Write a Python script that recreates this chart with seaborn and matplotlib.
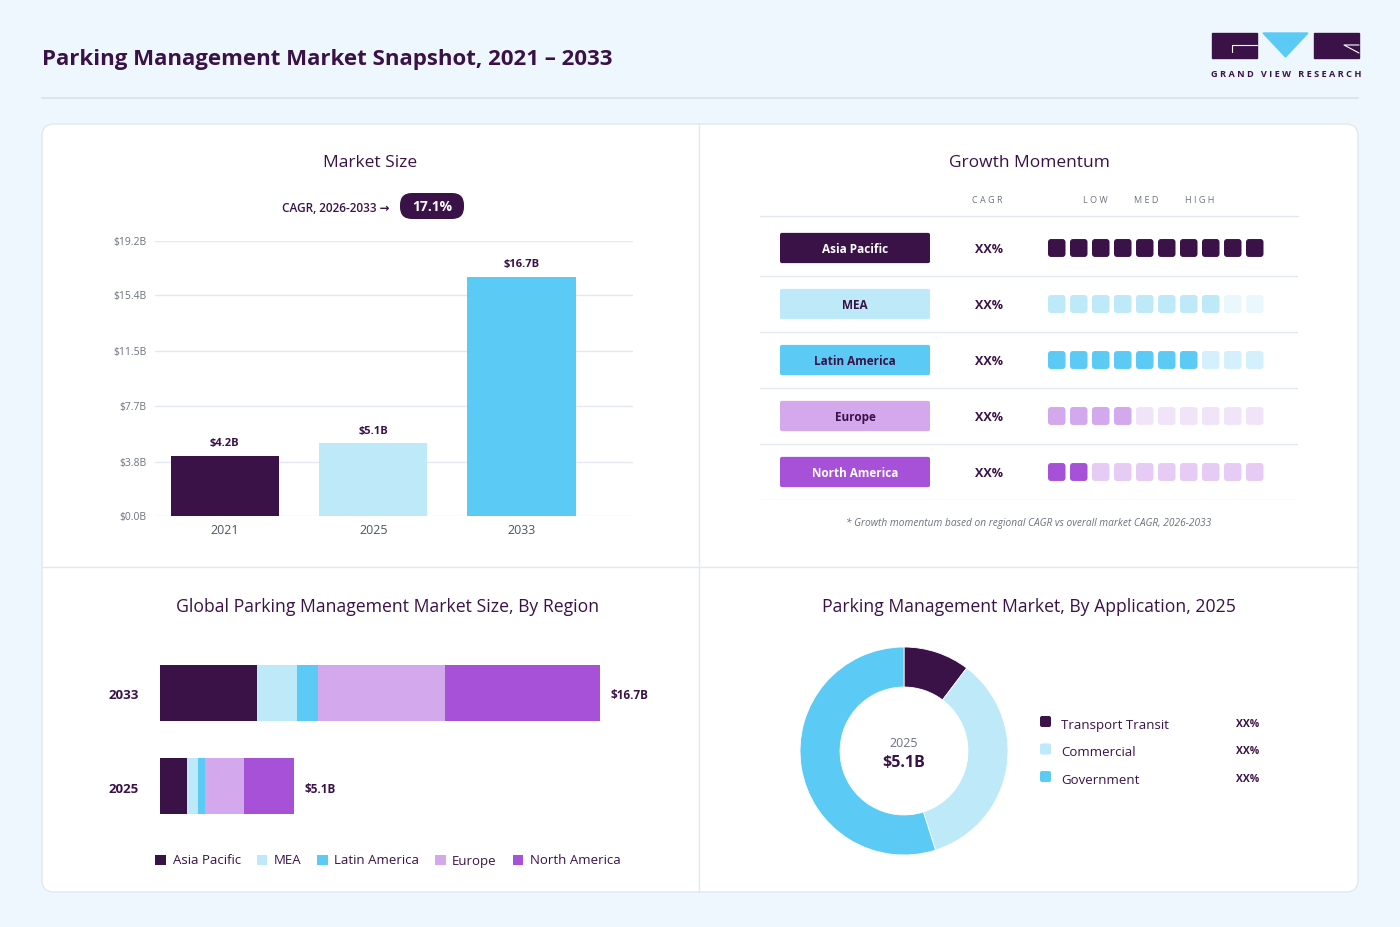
"""
Parking management market snapshot dashboard
"""
import matplotlib
matplotlib.use('Agg')
import matplotlib.pyplot as plt
from matplotlib.patches import FancyBboxPatch, Rectangle, Polygon, Patch
import seaborn as sns
import pandas as pd
import numpy as np

# ---- data ----
years = ['2021', '2025', '2033']
market_size = [4.2, 5.1, 16.7]
size_ticks = [0.0, 3.8, 7.7, 11.5, 15.4, 19.2]
cagr_label = '17.1%'

regions = ['Asia Pacific', 'MEA', 'Latin America', 'Europe', 'North America']
momentum_filled = [10, 8, 7, 4, 2]
momentum_cagr = ['XX%', 'XX%', 'XX%', 'XX%', 'XX%']

stack_years = ['2033', '2025']
region_2033 = [3.70, 1.50, 0.78, 4.83, 5.89]
region_2025 = [1.04, 0.42, 0.24, 1.50, 1.90]

applications = ['Transport Transit', 'Commercial', 'Government']
app_share = [10.3, 34.8, 54.9]
app_labels = ['XX%', 'XX%', 'XX%']

# ---- style ----
DARK = '#3A1248'
LIGHTBLUE = '#BDE9F9'
BLUE = '#5BCBF5'
LILAC = '#D4A8EC'
PURPLE = '#A751D8'
GREY = '#6B7280'
GRID = '#E3E8F0'
BG = '#EFF7FE'
region_colors = [DARK, LIGHTBLUE, BLUE, LILAC, PURPLE]
faded_colors = [DARK, '#EAF7FD', '#D3F0FC', '#F1E4F9', '#E6CCF4']
app_colors = [DARK, LIGHTBLUE, BLUE]

sns.set_theme(style='white')
plt.rcParams['font.family'] = ['Open Sans', 'DejaVu Sans']

W, H = 1400, 927
fig = plt.figure(figsize=(W / 100, H / 100), dpi=100, facecolor=BG)


def px_axes(x0, y0, x1, y1, **kw):
    """axes from pixel box (top-left origin)"""
    return fig.add_axes([x0 / W, 1 - y1 / H, (x1 - x0) / W, (y1 - y0) / H], **kw)


# background canvas in pixel coordinates
bg = px_axes(0, 0, W, H)
bg.set_xlim(0, W)
bg.set_ylim(H, 0)
bg.axis('off')
bg.set_zorder(0)

bg.text(42, 59, 'Parking Management Market Snapshot, 2021 \u2013 2033', fontsize=16,
        fontweight='bold', color=DARK, va='center', ha='left')
bg.plot([42, 1358], [98, 98], color='#DCE4EE', lw=1.5)

# logo
bg.add_patch(Rectangle((1212, 33), 45, 25, color=DARK))
bg.plot([1232, 1232, 1257], [52, 45, 45], color='white', lw=0.8)
bg.add_patch(Polygon([[1263, 33], [1308, 33], [1285.5, 57]], color=BLUE))
bg.add_patch(Rectangle((1314, 33), 45, 25, color=DARK))
bg.plot([1359, 1344, 1359], [53, 45, 45], color='white', lw=0.8)
bg.text(1286, 74, 'G R A N D   V I E W   R E S E A R C H', fontsize=6.6, color=DARK,
        ha='center', va='center', fontweight='bold')

# card
bg.add_patch(FancyBboxPatch((42, 124), 1316, 768, boxstyle='round,pad=0,rounding_size=12',
                            facecolor='white', edgecolor='#E2E8F0', lw=1))
bg.plot([699, 699], [124, 892], color=GRID, lw=1)
bg.plot([42, 1358], [567, 567], color=GRID, lw=1)

# ---- panel 1: market size ----
bg.text(370, 163, 'Market Size', fontsize=12.5, color=DARK, ha='center', va='center')
bg.text(390, 208, 'CAGR, 2026-2033 \u2192', fontsize=8.5, color=DARK, ha='right', va='center',
        fontweight='semibold')
bg.add_patch(FancyBboxPatch((400, 193), 64, 26, boxstyle='round,pad=0,rounding_size=12',
                            facecolor=DARK, edgecolor='none'))
bg.text(432, 207, cagr_label, fontsize=10, color='white', ha='center', va='center',
        fontweight='bold')

ax1 = px_axes(155, 241, 633, 516)
df_size = pd.DataFrame({'Year': years, 'Size': market_size})
sns.barplot(data=df_size, x='Year', y='Size', hue='Year', palette=[DARK, LIGHTBLUE, BLUE],
            saturation=1, width=0.73, legend=False, ax=ax1, zorder=3)
for p in ax1.patches:
    p.set_edgecolor('none')
ax1.set_xlim(-0.47, 2.75)
ax1.set_ylim(0, 19.2)
ax1.set_yticks(size_ticks)
ax1.set_yticklabels([f'${t:.1f}B' for t in size_ticks], fontsize=7.5, color=GREY)
ax1.grid(axis='y', color=GRID, lw=1, zorder=0)
ax1.tick_params(axis='x', labelsize=9, colors='#4B5563', pad=6, length=0)
ax1.tick_params(axis='y', length=0, pad=6)
ax1.set_xlabel('')
ax1.set_ylabel('')
ax1.set_facecolor('none')
sns.despine(ax=ax1, left=True, bottom=True)
for i, v in enumerate(market_size):
    ax1.text(i, v + 0.45, f'${v}B', ha='center', va='bottom', fontsize=8,
             fontweight='bold', color=DARK)

# ---- panel 2: growth momentum ----
bg.text(1029, 163, 'Growth Momentum', fontsize=12.5, color=DARK, ha='center', va='center')
for lbl, xx in [('C A G R', 987), ('L O W', 1095), ('M E D', 1146), ('H I G H', 1200)]:
    bg.text(xx, 200, lbl, fontsize=6.5, color=GREY, ha='center', va='center')
bg.plot([760, 1298], [216, 216], color=GRID, lw=1)

ax2 = px_axes(760, 220, 1298, 500)
ax2.set_xlim(760, 1298)
ax2.set_ylim(5, 0)
ax2.axis('off')
for r, (name, filled, cagr) in enumerate(zip(regions, momentum_filled, momentum_cagr)):
    ax2.axhline(r + 1, color=GRID, lw=1)
    ax2.add_patch(FancyBboxPatch((780, r + 0.5 - 0.27), 150, 0.54,
                                 boxstyle='round,pad=0,rounding_size=2',
                                 mutation_aspect=1 / 56, facecolor=region_colors[r],
                                 edgecolor='none'))
    tcol = 'white' if r in (0, 4) else DARK
    ax2.text(855, r + 0.52, name, fontsize=8.5, color=tcol, ha='center', va='center',
             fontweight='bold')
    ax2.text(989, r + 0.52, cagr, fontsize=9, color=DARK, ha='center', va='center',
             fontweight='bold')
    for k in range(10):
        col = region_colors[r] if k < filled else faded_colors[r]
        ax2.add_patch(FancyBboxPatch((1048 + 22 * k, r + 0.5 - 0.16), 17.5, 0.32,
                                     boxstyle='round,pad=0,rounding_size=3',
                                     mutation_aspect=1 / 56, facecolor=col,
                                     edgecolor='none'))
bg.text(1029, 523, '* Growth momentum based on regional CAGR vs overall market CAGR, 2026-2033',
        fontsize=7.3, color=GREY, ha='center', va='center', style='italic')

# ---- panel 3: stacked by region ----
bg.text(388, 607, 'Global Parking Management Market Size, By Region', fontsize=12.7,
        color=DARK, ha='center', va='center')
ax3 = px_axes(160, 646, 660, 833)
ax3.set_facecolor('none')
stack_vals = [region_2033, region_2025]
rows = []
for yr, vals in zip(stack_years, stack_vals):
    for reg, v in zip(regions, vals):
        rows.append({'Year': yr, 'Region': reg, 'Value': v})
df_reg = pd.DataFrame(rows)
left = np.zeros(len(stack_years))
for reg, col in zip(regions, region_colors):
    vals = df_reg[df_reg['Region'] == reg]['Value'].values
    ax3.barh(np.arange(len(stack_years)), vals, left=left, height=0.6, color=col,
             edgecolor='none')
    left += vals
totals = left
ax3.set_xlim(0, 16.7 * 500 / 440)
ax3.set_ylim(1.5, -0.5)
ax3.axis('off')
for i, (yr, tot) in enumerate(zip(stack_years, totals)):
    ax3.text(tot + 0.38, i + 0.03, f'${tot:.1f}B', fontsize=8.5, fontweight='bold',
             color=DARK, ha='left', va='center')
    ax3.text(-0.8, i + 0.03, yr, fontsize=9.5, fontweight='bold', color=DARK, ha='right',
             va='center')
handles = [Patch(facecolor=c, edgecolor='none', label=r) for r, c in zip(regions, region_colors)]
fig.legend(handles=handles, loc='center', bbox_to_anchor=(388 / W, 1 - 861 / H), ncol=5,
           frameon=False, fontsize=9.5, handlelength=0.8, handleheight=0.8,
           handletextpad=0.5, columnspacing=1.2, labelcolor=DARK)

# ---- panel 4: donut ----
bg.text(1029, 607, 'Parking Management Market, By Application, 2025', fontsize=12.7,
        color=DARK, ha='center', va='center')
ax4 = px_axes(800, 647, 1008, 855)
ax4.pie(app_share, colors=app_colors, startangle=90, counterclock=False, radius=1,
        wedgeprops=dict(width=0.385, edgecolor='white', linewidth=0.6))
ax4.set_xlim(-1, 1)
ax4.set_ylim(-1, 1)
ax4.text(0, 0.07, '2025', fontsize=9, color=GREY, ha='center', va='center')
ax4.text(0, -0.12, '$5.1B', fontsize=11.5, color=DARK, ha='center', va='center',
         fontweight='bold')
for i, (app, lab, col) in enumerate(zip(applications, app_labels, app_colors)):
    yy = 723 + 27.5 * i
    bg.add_patch(FancyBboxPatch((1040, yy - 7), 11, 11, boxstyle='round,pad=0,rounding_size=2',
                                facecolor=col, edgecolor='none'))
    bg.text(1061, yy + 2.5, app, fontsize=9.5, color=DARK, ha='left', va='center')
    bg.text(1259, yy + 1.5, lab, fontsize=7.5, color=DARK, ha='right', va='center',
            fontweight='bold')

fig.savefig('out.png', dpi=100, facecolor=BG)
